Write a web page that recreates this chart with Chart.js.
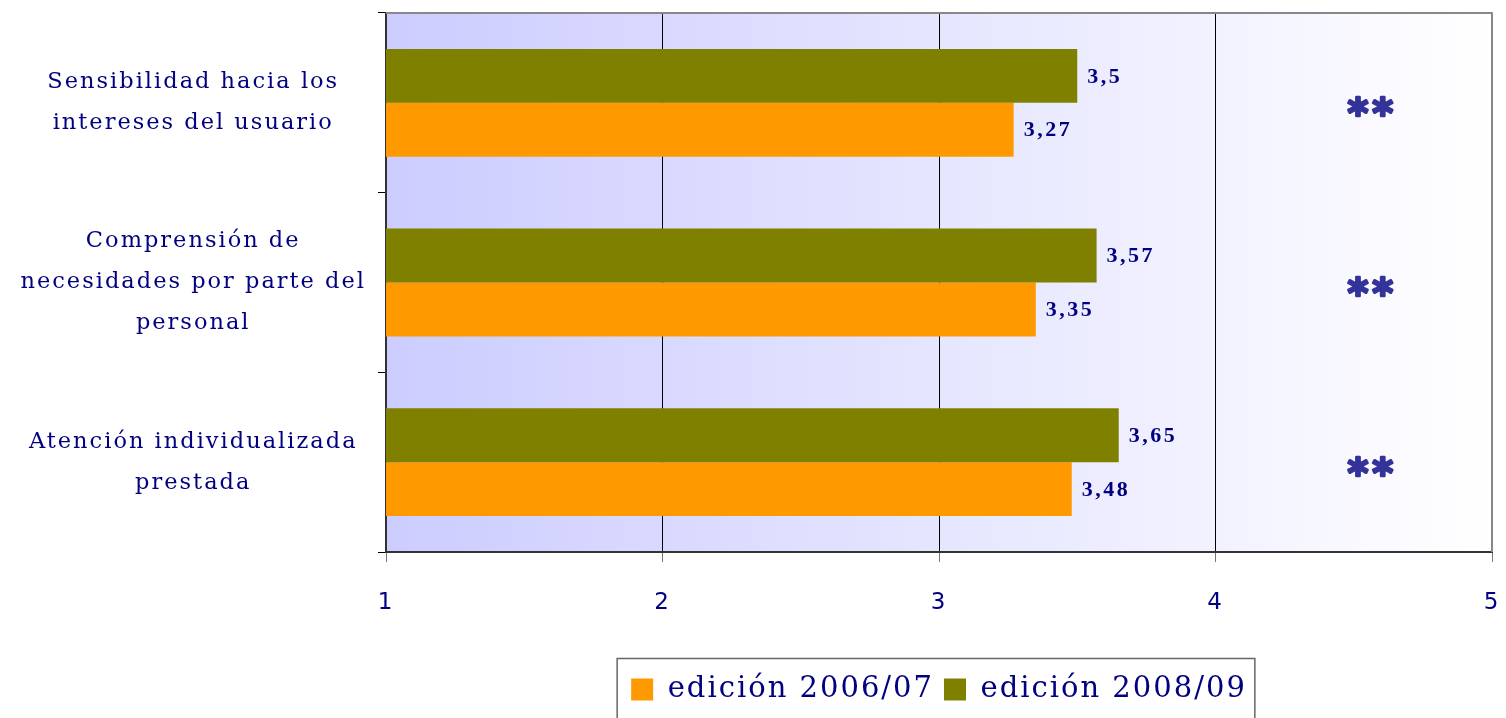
<!DOCTYPE html>
<html>
<head>
<meta charset="utf-8">
<script src="https://cdn.jsdelivr.net/npm/chart.js@4/dist/chart.umd.min.js"></script>
<style>
  html, body { margin: 0; padding: 0; background: #fff; }
  #wrap { width: 1506px; height: 718px; }
</style>
</head>
<body>
<div id="wrap"><canvas id="myChart" width="1506" height="718"></canvas></div>
<script>
'use strict';

// categories (multi-line labels) and values per edition
const categories = [
  ['Sensibilidad hacia los', 'intereses del usuario'],
  ['Comprensión de', 'necesidades por parte del', 'personal'],
  ['Atención individualizada', 'prestada']
];
const ed200809 = [3.5, 3.57, 3.65];
const ed200607 = [3.27, 3.35, 3.48];
const seriesNames = ['edición 2008/09', 'edición 2006/07'];
const seriesColors = ['#808000', '#ff9900'];
const axisMin = 1;
const axisMax = 5;
const signif = ['**', '**', '**'];
const signifAt = 4.56;

const navy = '#000080';
const spacing = '2px';

// lavender to white fill behind the plot, wide tracking for all texts
const bgPlugin = {
  id: 'bgFill',
  beforeLayout(chart) {
    chart.ctx.letterSpacing = spacing;
  },
  beforeDraw(chart) {
    const a = chart.chartArea;
    const ctx = chart.ctx;
    ctx.letterSpacing = spacing;
    const g = ctx.createLinearGradient(a.left, 0, a.right, 0);
    g.addColorStop(0, '#ccccff');
    g.addColorStop(1, '#ffffff');
    ctx.save();
    ctx.fillStyle = g;
    ctx.fillRect(a.left, a.top, a.right - a.left, a.bottom - a.top);
    ctx.restore();
  }
};

// value labels, ** marks, frame and legend box
const extrasPlugin = {
  id: 'extras',
  afterDatasetsDraw(chart) {
    const ctx = chart.ctx;
    ctx.save();
    ctx.font = 'bold 22px "Liberation Serif"';
    ctx.letterSpacing = '2.5px';
    ctx.fillStyle = navy;
    ctx.textBaseline = 'middle';
    ctx.textAlign = 'left';
    chart.data.datasets.forEach((ds, di) => {
      chart.getDatasetMeta(di).data.forEach((bar, i) => {
        const txt = String(ds.data[i]).replace('.', ',');
        ctx.fillText(txt, bar.x + 10, bar.y + 1);
      });
    });

    // significance marks, drawn heavy
    const xs = chart.scales.x;
    const ys = chart.scales.y;
    ctx.letterSpacing = '4px';
    ctx.font = 'bold 40px "DejaVu Sans"';
    ctx.fillStyle = '#333399';
    ctx.strokeStyle = '#333399';
    ctx.lineWidth = 2.5;
    ctx.lineJoin = 'round';
    ctx.textAlign = 'center';
    signif.forEach((s, i) => {
      const x = xs.getPixelForValue(signifAt) + 2;
      const y = ys.getPixelForValue(i) + 14;
      ctx.strokeText(s, x, y);
      ctx.fillText(s, x, y);
    });

    const a = chart.chartArea;
    ctx.strokeStyle = '#888';
    ctx.lineWidth = 2;
    ctx.beginPath();
    ctx.moveTo(a.left, a.top);
    ctx.lineTo(a.right, a.top);
    ctx.lineTo(a.right, a.bottom);
    ctx.stroke();
    ctx.restore();
  },
  afterDraw(chart) {
    const lg = chart.legend;
    if (!lg || !lg.legendHitBoxes.length) return;
    const boxes = lg.legendHitBoxes;
    const left = Math.min(...boxes.map(b => b.left)) - 14;
    const right = Math.max(...boxes.map(b => b.left + b.width)) + 8;
    const top = boxes[0].top + boxes[0].height / 2 - 31;
    const ctx = chart.ctx;
    ctx.save();
    ctx.strokeStyle = '#666';
    ctx.lineWidth = 1.5;
    ctx.strokeRect(left, top, right - left, 100);
    ctx.restore();
  }
};

const ctx = document.getElementById('myChart').getContext('2d');
ctx.letterSpacing = spacing;
const myChart = new Chart(ctx, {
  type: 'bar',
  data: {
    labels: categories,
    datasets: [{
      label: seriesNames[0],
      data: ed200809,
      backgroundColor: seriesColors[0],
      borderWidth: 0,
      categoryPercentage: 0.6,
      barPercentage: 1
    }, {
      label: seriesNames[1],
      data: ed200607,
      backgroundColor: seriesColors[1],
      borderWidth: 0,
      categoryPercentage: 0.6,
      barPercentage: 1
    }]
  },
  options: {
    indexAxis: 'y',
    responsive: false,
    animation: false,
    layout: { padding: { left: 0, top: 13, right: 14, bottom: 4 } },
    scales: {
      x: {
        min: axisMin,
        max: axisMax,
        beginAtZero: false,
        afterFit: s => {
          s.height = 113;
          s.paddingLeft = 0;
          s.paddingRight = 0;
        },
        ticks: {
          stepSize: 1,
          color: navy,
          padding: 27,
          font: { family: 'DejaVu Sans', size: 23 }
        },
        grid: {
          color: ctx => (ctx.tick && ctx.tick.value === axisMax ? '#888' : '#000'),
          lineWidth: 1,
          tickLength: 10,
          tickColor: '#777'
        },
        border: { color: '#333', width: 2 }
      },
      y: {
        afterFit: s => {
          s.width = 386;
          s.paddingTop = 0;
          s.paddingBottom = 0;
        },
        ticks: {
          color: navy,
          crossAlign: 'center',
          padding: 12,
          font: { family: 'DejaVu Serif', size: 22.5, lineHeight: '41px' }
        },
        grid: {
          drawOnChartArea: false,
          tickLength: 8,
          color: '#000'
        },
        border: { color: '#333', width: 2 }
      }
    },
    plugins: {
      legend: {
        position: 'bottom',
        fullSize: false,
        reverse: true,
        labels: {
          color: navy,
          boxWidth: 22,
          boxHeight: 22,
          padding: 10,
          font: { family: 'DejaVu Serif', size: 29 }
        }
      },
      tooltip: { enabled: false }
    }
  },
  plugins: [bgPlugin, extrasPlugin]
});
</script>
</body>
</html>
